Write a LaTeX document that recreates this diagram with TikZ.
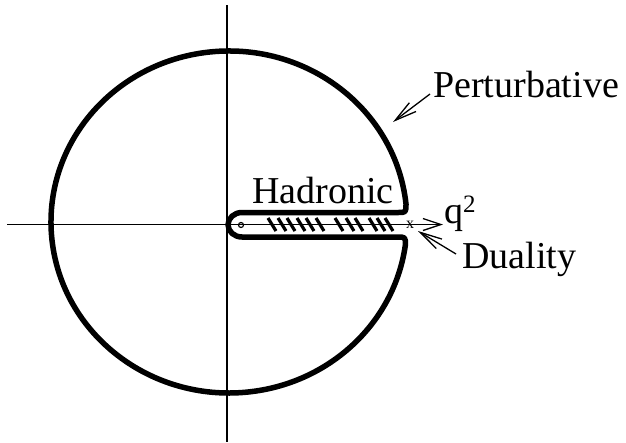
\documentclass[tikz,border=0pt]{standalone}
\usepackage{fontspec}
\setmainfont{Liberation Serif}
\usetikzlibrary{arrows.meta}
\begin{document}
\begin{tikzpicture}[x=1pt,y=1pt]
\tikzset{
 contour/.style={line width=5.5pt, line join=round},
 axis/.style={line width=1.3pt},
 hatch/.style={line width=3.2pt},
 lbl/.style={font=\fontsize{38}{40}\selectfont, inner sep=0pt, anchor=base west},
 pointer/.style={line width=1.3pt, -{Straight Barb[length=22pt,width=11pt]}}
}
\useasboundingbox (0,0) rectangle (626,-442);
% axes
\coordinate (xl) at (7,-224.5);
\coordinate (xr) at (443,-224.5);
\coordinate (yt) at (227,-5);
\coordinate (yb) at (227,-442);
\draw[axis] (yt) -- (yb);
\draw[axis, -{Straight Barb[length=18pt,width=12pt]}] (xl) -- (xr);
% contour
\draw[contour] (398,-212.5) .. controls (406,-212.5) .. (406,-204)
  arc[start angle=6.04, end angle=352.27, x radius=178, y radius=171]
  .. controls (405.4,-237) .. (397,-237) -- (242,-237)
  arc[start angle=-90, end angle=-270, x radius=14, y radius=12.25] -- cycle;
% cut hatches
\foreach \h in {272,282,291,301,310,320,339,350,359,373,381,389}
  \draw[hatch] (\h-4,-218) -- (\h+4,-231);
% origin marker and threshold mark
\node[circle, draw, line width=1.2pt, minimum size=5pt, inner sep=0pt] (origin) at (241,-225) {};
\node[font=\fontsize{16}{16}\selectfont, inner sep=0pt] (xmark) at (410,-224.5) {x};
% labels
\node[lbl] (pert) at (433,-97) {Perturbative};
\node[lbl] (had) at (252,-203) {Hadronic};
\node[lbl] (dual) at (462,-268) {Duality};
\node[lbl] (q2) at (444,-223) {q\raisebox{11pt}{\fontsize{25}{25}\selectfont 2}};
% pointers
\coordinate (ps) at (430,-94);
\coordinate (pe) at (393,-122);
\coordinate (ds) at (456,-254);
\coordinate (de) at (418,-231);
\draw[pointer] (ps) -- (pe);
\draw[pointer] (ds) -- (de);
\end{tikzpicture}
\end{document}
